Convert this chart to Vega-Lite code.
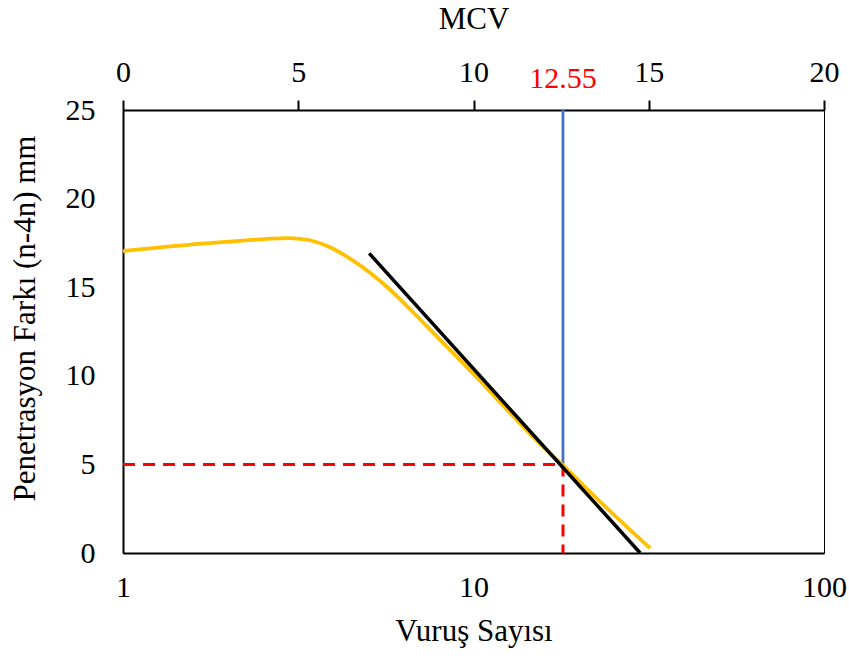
{
  "$schema": "https://vega.github.io/schema/vega-lite/v6.json",
  "width": 701,
  "height": 443,
  "autosize": {"type": "none"},
  "padding": {"left": 123, "top": 110, "right": 25, "bottom": 107},
  "background": "white",
  "config": {
    "font": "Liberation Serif, Times New Roman, serif",
    "view": {"stroke": "black", "strokeWidth": 1},
    "axis": {
      "labelFont": "Liberation Serif, Times New Roman, serif",
      "titleFont": "Liberation Serif, Times New Roman, serif",
      "labelFontSize": 30,
      "titleFontSize": 31,
      "labelColor": "black",
      "titleColor": "black",
      "titleFontWeight": "normal",
      "domainColor": "black",
      "domainWidth": 2,
      "grid": false,
      "ticks": false,
      "labelFlush": false,
      "labelOverlap": false
    }
  },
  "layer": [
    {
      "layer": [
        {
          "data": {"values": [
            {"N": 1, "pen": 5, "seg": "h"},
            {"N": 18.0, "pen": 5, "seg": "h"},
            {"N": 18.0, "pen": 5, "seg": "v"},
            {"N": 18.0, "pen": 0, "seg": "v"}
          ]},
          "mark": {"type": "line", "color": "#FF0000", "strokeWidth": 3, "strokeDash": [12, 8]},
          "encoding": {
            "x": {"field": "N", "type": "quantitative", "scale": {"type": "log", "domain": [1, 100]},
              "axis": {"orient": "bottom", "values": [1, 10, 100], "format": "d", "title": "Vuruş Sayısı", "labelPadding": 19, "titlePadding": 14}},
            "y": {"field": "pen", "type": "quantitative", "scale": {"domain": [0, 25], "nice": false},
              "axis": {"values": [0, 5, 10, 15, 20, 25], "title": "Penetrasyon Farkı (n-4n) mm", "labelPadding": 28, "titlePadding": 24, "titleY": 208}},
            "detail": {"field": "seg"}
          }
        },
        {
          "data": {"values": [
            {"N": 18.0, "pen": 5},
            {"N": 18.0, "pen": 25}
          ]},
          "mark": {"type": "line", "color": "#4472C4", "strokeWidth": 2.8},
          "encoding": {
            "x": {"field": "N", "type": "quantitative"},
            "y": {"field": "pen", "type": "quantitative"}
          }
        },
        {
          "data": {"values": [
            {"N": 1.0, "pen": 17.04},
            {"N": 1.275, "pen": 17.24},
            {"N": 1.658, "pen": 17.47},
            {"N": 2.303, "pen": 17.66},
            {"N": 2.627, "pen": 17.74},
            {"N": 2.996, "pen": 17.8},
            {"N": 3.417, "pen": 17.7},
            {"N": 3.896, "pen": 17.3},
            {"N": 4.443, "pen": 16.63},
            {"N": 5.067, "pen": 15.85},
            {"N": 5.777, "pen": 14.9},
            {"N": 6.722, "pen": 13.6},
            {"N": 8.402, "pen": 11.63},
            {"N": 10.43, "pen": 9.76},
            {"N": 14.49, "pen": 6.66},
            {"N": 18.0, "pen": 4.97},
            {"N": 24.0, "pen": 2.5},
            {"N": 31.9, "pen": 0.27}
          ]},
          "mark": {"type": "line", "color": "#FFC000", "strokeWidth": 3.8, "interpolate": "basis"},
          "encoding": {
            "x": {"field": "N", "type": "quantitative"},
            "y": {"field": "pen", "type": "quantitative"}
          }
        },
        {
          "data": {"values": [
            {"N": 5.04, "pen": 16.91},
            {"N": 29.9, "pen": 0}
          ]},
          "mark": {"type": "line", "color": "black", "strokeWidth": 3.5},
          "encoding": {
            "x": {"field": "N", "type": "quantitative"},
            "y": {"field": "pen", "type": "quantitative"}
          }
        }
      ]
    },
    {
      "data": {"values": [{"mcv": 12.55, "label": "12.55"}]},
      "mark": {"type": "text", "color": "#FF0000", "fontSize": 30, "font": "Liberation Serif, Times New Roman, serif", "baseline": "alphabetic", "dy": -22},
      "encoding": {
        "x": {"field": "mcv", "type": "quantitative", "scale": {"domain": [0, 20], "nice": false},
          "axis": {"orient": "top", "values": [0, 5, 10, 15, 20], "title": "MCV", "ticks": true, "tickSize": 10, "tickWidth": 2, "tickColor": "black", "labelPadding": 13, "titlePadding": 22}},
        "y": {"datum": 25, "type": "quantitative"},
        "text": {"field": "label"}
      }
    }
  ],
  "resolve": {"scale": {"x": "independent"}, "axis": {"x": "independent"}}
}
